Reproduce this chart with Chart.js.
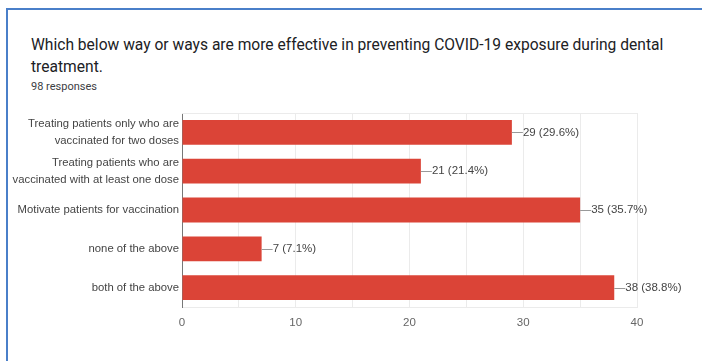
<!DOCTYPE html>
<html>
<head>
<meta charset="utf-8">
<script src="https://cdn.jsdelivr.net/npm/chart.js@4/dist/chart.umd.min.js"></script>
<style>
  body { margin: 0; background: #fff; width: 702px; height: 361px; overflow: hidden; position: relative; }
  .frame { position: absolute; left: 6px; top: 8px; width: 720px; height: 400px; border-left: 2px solid #4a7fc9; border-top: 2px solid #4a7fc9; }
  .question { position: absolute; left: 31px; top: 34px; width: 660px; font-family: Roboto, Arial, sans-serif; font-size: 15.6px; line-height: 22px; color: #202124; }
  .responses { position: absolute; left: 31px; top: 80px; font-family: Roboto, Arial, sans-serif; font-size: 11px; color: #3c4043; }
  #chart { position: absolute; left: 0; top: 0; }
</style>
</head>
<body>
<div class="frame"></div>
<div class="question">Which below way or ways are more effective in preventing COVID-19 exposure during dental treatment.</div>
<div class="responses">98 responses</div>
<canvas id="chart" width="702" height="361"></canvas>
<script>
const totalResponses = 98;
const answers = [
    ["Treating patients only who are", "vaccinated for two doses"],
    ["Treating patients who are", "vaccinated with at least one dose"],
    "Motivate patients for vaccination",
    "none of the above",
    "both of the above"
];
const counts = [29, 21, 35, 7, 38];
const xTicks = [0, 10, 20, 30, 40];

// leader line + "n (p%)" label after each bar, and the top edge of the frame
const valueLabels = {
    id: "valueLabels",
    beforeDatasetsDraw(chart) {
        const ctx = chart.ctx;
        const area = chart.chartArea;
        ctx.save();
        ctx.strokeStyle = "#ebebeb";
        ctx.lineWidth = 1;
        ctx.beginPath();
        ctx.moveTo(area.left, area.top + 0.5);
        ctx.lineTo(area.right, area.top + 0.5);
        ctx.stroke();
        ctx.restore();
    },
    afterDatasetsDraw(chart) {
        const ctx = chart.ctx;
        const meta = chart.getDatasetMeta(0);
        ctx.save();
        ctx.font = "11.5px 'Liberation Sans', Arial, sans-serif";
        ctx.fillStyle = "#444";
        ctx.strokeStyle = "#999";
        ctx.lineWidth = 1;
        ctx.textBaseline = "middle";
        meta.data.forEach((bar, i) => {
            const pct = (counts[i] / totalResponses * 100).toFixed(1);
            ctx.beginPath();
            ctx.moveTo(bar.x, Math.round(bar.y) + 0.5);
            ctx.lineTo(bar.x + 11, Math.round(bar.y) + 0.5);
            ctx.stroke();
            ctx.fillText(`${counts[i]} (${pct}%)`, bar.x + 11, bar.y);
        });
        ctx.restore();
    }
};

const config = {
    type: "bar",
    data: {
        labels: answers,
        datasets: [{
            data: counts,
            backgroundColor: "#db4437",
            borderWidth: 0,
            barPercentage: 0.64,
            categoryPercentage: 1
        }]
    },
    options: {
        indexAxis: "y",
        responsive: false,
        animation: false,
        layout: { padding: { top: 113, right: 65, left: 0, bottom: 0 } },
        plugins: {
            legend: { display: false },
            tooltip: { enabled: false }
        },
        scales: {
            x: {
                min: 0,
                max: 40,
                afterFit: (axis) => { axis.height = 54; },
                afterBuildTicks: (axis) => {
                    axis.ticks = [0, 5, 10, 15, 20, 25, 30, 35, 40].map(v => ({ value: v }));
                },
                grid: { color: "#ebebeb", tickLength: 0, drawTicks: false },
                border: { color: "#ebebeb" },
                ticks: {
                    padding: 9,
                    color: "#666",
                    font: { family: "'Liberation Sans', Arial, sans-serif", size: 11.5 },
                    callback: (v) => xTicks.includes(v) ? String(v) : ""
                }
            },
            y: {
                afterFit: (axis) => { axis.width = 182; },
                grid: { display: false, drawTicks: false },
                border: { color: "#777", width: 1 },
                ticks: {
                    padding: 3,
                    color: "#444",
                    font: { family: "'Liberation Sans', Arial, sans-serif", size: 11.3, lineHeight: 1.45 }
                }
            }
        }
    },
    plugins: [valueLabels]
};

var myChart = new Chart(document.getElementById("chart"), config);
</script>
</body>
</html>
